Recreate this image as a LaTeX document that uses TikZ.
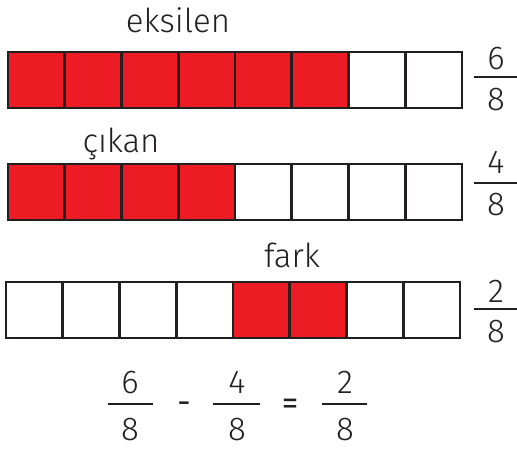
\documentclass[tikz,border=0pt]{standalone}
\usepackage{fontspec}
\setmainfont{Fira Sans Light}
\newfontfamily\regfont{Fira Sans}
\definecolor{barred}{HTML}{ED1C24}
\definecolor{ink}{HTML}{231F20}
\begin{document}
\begin{tikzpicture}[x=1pt,y=-1pt,
  cell/.style={draw=ink,line width=2.6pt,minimum width=56.75pt,minimum height=56pt,inner sep=0pt,outer sep=0pt},
  full/.style={cell,fill=barred},
  empty/.style={cell,fill=white},
  lbl/.style={font=\fontsize{33}{38}\selectfont,text=ink,inner sep=0pt,anchor=base},
  num/.style={font=\fontsize{33}{38}\selectfont,text=ink,inner sep=0pt,anchor=base},
  op/.style={font=\regfont\fontsize{33}{38}\selectfont,text=ink,inner sep=0pt,anchor=base},
  fracline/.style={draw=ink,line width=2.2pt}]
\useasboundingbox (0,0) rectangle (517,448);
% bar 1: eksilen
\foreach \i in {1,...,8}{
  \ifnum\i<7 \def\st{full}\else\def\st{empty}\fi
  \node[\st] (a\i) at ({8+56.75*(\i-0.5)},80) {};
}
% bar 2: cikan
\foreach \i in {1,...,8}{
  \ifnum\i<5 \def\st{full}\else\def\st{empty}\fi
  \node[\st] (b\i) at ({8+56.75*(\i-0.5)},192) {};
}
% bar 3: fark
\foreach \i in {1,...,8}{
  \ifnum\i>4 \ifnum\i<7 \def\st{full}\else\def\st{empty}\fi\else\def\st{empty}\fi
  \node[\st] (c\i) at ({6+56.75*(\i-0.5)},310) {};
}
% labels
\node[lbl] (leks) at (178,32) {eksilen};
\node[lbl] (lcik) at (121,152) {çıkan};
\node[lbl] (lfark) at (292,267) {fark};
% right fractions
\coordinate (f1l) at (474,77); \coordinate (f1r) at (517,77);
\draw[fracline] (f1l) -- (f1r);
\node[num] (f1n) at (496,69) {6};
\node[num] (f1d) at (496,110) {8};
\coordinate (f2l) at (474,183); \coordinate (f2r) at (517,183);
\draw[fracline] (f2l) -- (f2r);
\node[num] (f2n) at (496,173) {4};
\node[num] (f2d) at (496,215) {8};
\coordinate (f3l) at (474,309); \coordinate (f3r) at (517,309);
\draw[fracline] (f3l) -- (f3r);
\node[num] (f3n) at (496,302) {2};
\node[num] (f3d) at (496,342) {8};
% equation
\coordinate (e1l) at (108,404); \coordinate (e1r) at (153,404);
\draw[fracline] (e1l) -- (e1r);
\node[num] (e1n) at (130,393) {6};
\node[num] (e1d) at (130,440) {8};
\node[op] (minus) at (184,413) {-};
\coordinate (e2l) at (213,404); \coordinate (e2r) at (260,404);
\draw[fracline] (e2l) -- (e2r);
\node[num] (e2n) at (237,393) {4};
\node[num] (e2d) at (237,440) {8};
\node[op] (eq) at (290,414) {=};
\coordinate (e3l) at (322,404); \coordinate (e3r) at (367,404);
\draw[fracline] (e3l) -- (e3r);
\node[num] (e3n) at (345,393) {2};
\node[num] (e3d) at (345,440) {8};
\end{tikzpicture}
\end{document}
